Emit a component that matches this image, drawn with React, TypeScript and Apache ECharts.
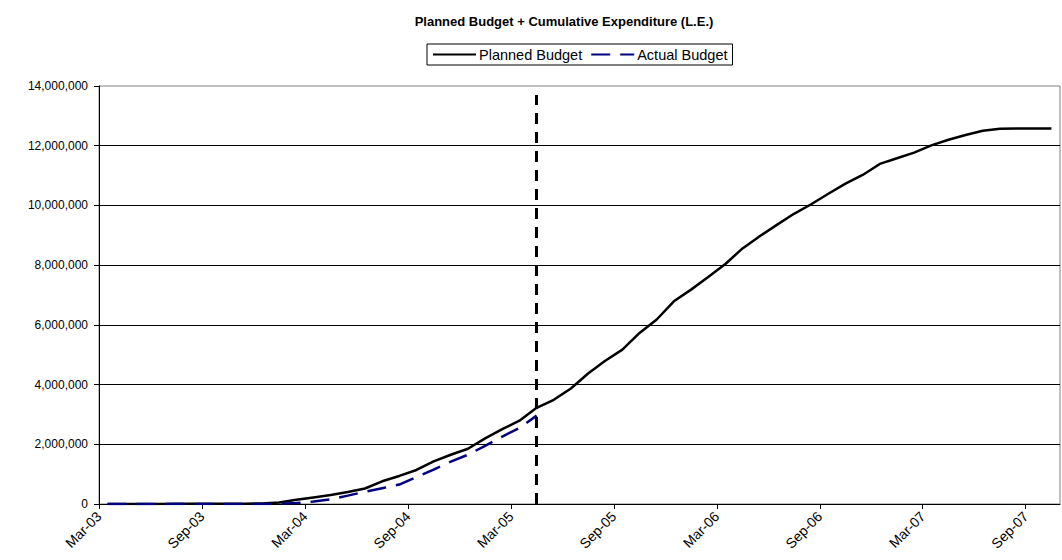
import React, { useEffect, useRef } from "react";
import * as echarts from "echarts";

const TITLE = "Planned Budget + Cumulative Expenditure (L.E.)";
const SERIES_NAMES = ["Planned Budget", "Actual Budget"];

const months = [
  "Mar-03", "Apr-03", "May-03", "Jun-03", "Jul-03", "Aug-03", "Sep-03", "Oct-03", "Nov-03", "Dec-03",
  "Jan-04", "Feb-04", "Mar-04", "Apr-04", "May-04", "Jun-04", "Jul-04", "Aug-04", "Sep-04", "Oct-04",
  "Nov-04", "Dec-04", "Jan-05", "Feb-05", "Mar-05", "Apr-05", "May-05", "Jun-05", "Jul-05", "Aug-05",
  "Sep-05", "Oct-05", "Nov-05", "Dec-05", "Jan-06", "Feb-06", "Mar-06", "Apr-06", "May-06", "Jun-06",
  "Jul-06", "Aug-06", "Sep-06", "Oct-06", "Nov-06", "Dec-06", "Jan-07", "Feb-07", "Mar-07", "Apr-07",
  "May-07", "Jun-07", "Jul-07", "Aug-07", "Sep-07", "Oct-07",
];

const planned = [
  0, 0, 0, 0, 5000, 5000, 8000, 10000, 10000, 15000,
  50000, 140000, 220000, 300000, 400000, 520000, 760000, 940000, 1140000, 1430000,
  1650000, 1850000, 2200000, 2510000, 2790000, 3220000, 3490000, 3870000, 4370000, 4800000,
  5170000, 5730000, 6180000, 6790000, 7180000, 7600000, 8040000, 8560000, 8970000, 9350000,
  9720000, 10040000, 10390000, 10730000, 11020000, 11390000, 11580000, 11770000, 12010000, 12200000,
  12360000, 12500000, 12570000, 12580000, 12580000, 12580000,
];

const actual = [
  0, 0, 0, 0, 0, 0, 0, 0, 0, 0,
  5000, 30000, 80000, 160000, 280000, 410000, 530000, 650000, 900000, 1150000,
  1420000, 1650000, 1950000, 2260000, 2550000, 2960000,
];

const yTicks = [0, 2000000, 4000000, 6000000, 8000000, 10000000, 12000000, 14000000];
const cutoffTop = 13700000;

const FONT = "'Liberation Sans', Arial, sans-serif";

export default function App() {
  const ref = useRef<HTMLDivElement>(null);

  useEffect(() => {
    if (!ref.current) return;
    const chart = echarts.init(ref.current, undefined, { renderer: "svg" });

    const labelIdx = months
      .map((m, i) => (m.startsWith("Mar") || m.startsWith("Sep") ? i : -1))
      .filter((i) => i >= 0);
    const cutX = actual.length - 0.5;

    chart.setOption({
      animation: false,
      backgroundColor: "#fff",
      title: {
        text: TITLE,
        left: 559,
        textAlign: "center",
        top: 10,
        textStyle: { fontFamily: FONT, fontSize: 13, fontWeight: "bold", color: "#000" },
      },
      legend: {
        data: SERIES_NAMES,
        left: 427,
        top: 44,
        orient: "horizontal",
        borderColor: "#000",
        borderWidth: 1,
        padding: [3, 5, 3, 5],
        itemWidth: 43,
        itemHeight: 14,
        itemGap: 8,
        itemStyle: { opacity: 0, borderWidth: 0 },
        textStyle: { fontFamily: FONT, fontSize: 14.5, color: "#000", padding: [0, 0, 0, -2] },
      },
      grid: {
        left: 99,
        right: 2,
        top: 86,
        bottom: 56,
        show: true,
        borderColor: "#808080",
        borderWidth: 1,
        containLabel: false,
      },
      xAxis: {
        type: "value",
        min: 0,
        max: months.length,
        interval: 6,
        axisLine: { show: true, lineStyle: { color: "#000", width: 1 } },
        axisTick: { show: true, length: 5, lineStyle: { color: "#000" }, customValues: labelIdx },
        splitLine: { show: false },
        axisLabel: {
          customValues: labelIdx,
          rotate: 45,
          margin: 10,
          fontFamily: FONT,
          fontSize: 14,
          color: "#000",
          formatter: (v: number) => months[Math.round(v)] ?? "",
        },
      },
      yAxis: {
        type: "value",
        min: yTicks[0],
        max: yTicks[yTicks.length - 1],
        interval: yTicks[1] - yTicks[0],
        axisLine: { show: true, lineStyle: { color: "#000", width: 1 } },
        axisTick: { show: true, length: 5, lineStyle: { color: "#000" } },
        splitLine: { show: true, showMaxLine: false, lineStyle: { color: "#000", width: 1 } },
        axisLabel: {
          margin: 11,
          fontFamily: FONT,
          fontSize: 12,
          color: "#000",
          formatter: (v: number) => v.toLocaleString("en-US"),
        },
      },
      series: [
        {
          name: SERIES_NAMES[0],
          type: "line",
          data: planned.map((v, i) => [i + 0.5, v]),
          symbol: "none",
          lineStyle: { color: "#000", width: 2.5 },
          itemStyle: { color: "#000" },
          z: 2,
        },
        {
          name: SERIES_NAMES[1],
          type: "line",
          data: actual.map((v, i) => [i + 0.5, v]),
          symbol: "none",
          lineStyle: { color: "#000080", width: 2.5, type: [19, 10] },
          itemStyle: { color: "#000080" },
          z: 3,
          markLine: {
            silent: true,
            symbol: ["none", "none"],
            label: { show: false },
            lineStyle: { color: "#000", width: 3, type: [11, 8] },
            data: [[{ coord: [cutX, 0] }, { coord: [cutX, cutoffTop] }]],
          },
        },
      ],
    });

    return () => chart.dispose();
  }, []);

  return (
    <div
      ref={ref}
      style={{ position: "fixed", left: 0, top: 0, width: 1062, height: 560, background: "#fff" }}
    />
  );
}
